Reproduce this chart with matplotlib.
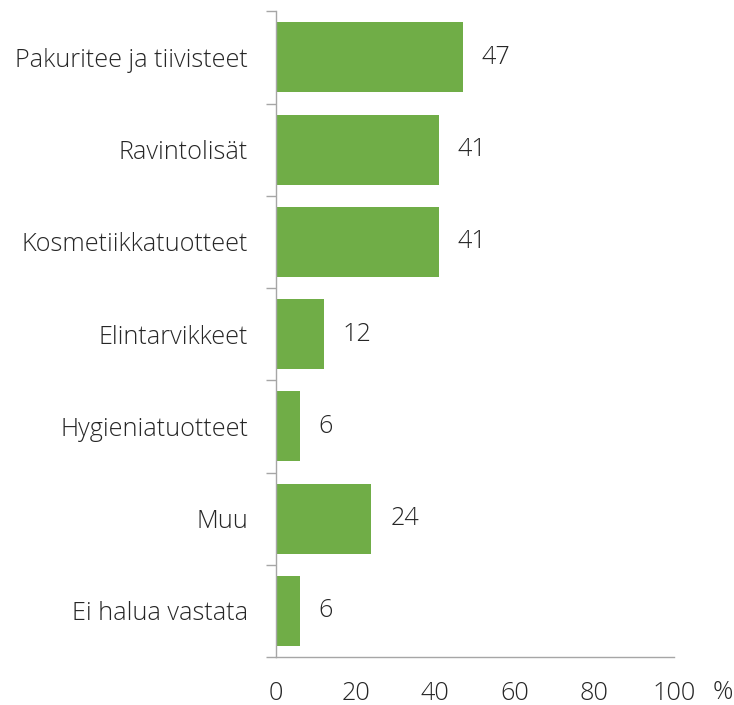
import matplotlib.pyplot as plt
import numpy as np

# Kategoriat ja arvot (%), ylhäältä alas
kategoriat = ["Pakuritee ja tiivisteet", "Ravintolisät", "Kosmetiikkatuotteet",
              "Elintarvikkeet", "Hygieniatuotteet", "Muu", "Ei halua vastata"]
arvot = [47, 41, 41, 12, 6, 24, 6]
x_tikit = [0, 20, 40, 60, 80, 100]

vihrea = "#70AD47"
harmaa = "#A6A6A6"
teksti = "#262626"
koko = 18.2
plt.rcParams['font.family'] = ['Open Sans', 'DejaVu Sans']
plt.rcParams['font.weight'] = 'light'

fig = plt.figure(figsize=(7.34, 7.05), dpi=100)
ax = fig.add_axes([0.376, 0.068, 0.542, 0.916])

y = np.arange(len(kategoriat))
ax.barh(y, arvot, height=0.76, color=vihrea)
ax.set_ylim(len(kategoriat) - 0.5, -0.5)
ax.set_xlim(0, 100)

# arvot palkkien perään
for yi, v in zip(y, arvot):
    ax.text(v + 4.7, yi, str(v), va="center", ha="left", fontsize=koko, color=teksti)

ax.set_yticks(y)
ax.set_yticklabels(kategoriat, fontsize=koko, color=teksti)
ax.set_yticks(np.arange(len(kategoriat) + 1) - 0.5, minor=True)
ax.tick_params(axis="y", which="major", length=0, pad=20)
ax.tick_params(axis="y", which="minor", length=7, width=1, color=harmaa)

ax.set_xticks(x_tikit)
ax.set_xticklabels([str(t) for t in x_tikit], fontsize=koko, color=teksti)
ax.tick_params(axis="x", length=0, pad=17)
ax.text(1.098, -0.055, "%", transform=ax.transAxes, fontsize=koko, color=teksti,
        ha="left", va="center")

for s in ["top", "right"]:
    ax.spines[s].set_visible(False)
for s in ["left", "bottom"]:
    ax.spines[s].set_color(harmaa)
    ax.spines[s].set_linewidth(1)

fig.savefig("out.png", dpi=100)
